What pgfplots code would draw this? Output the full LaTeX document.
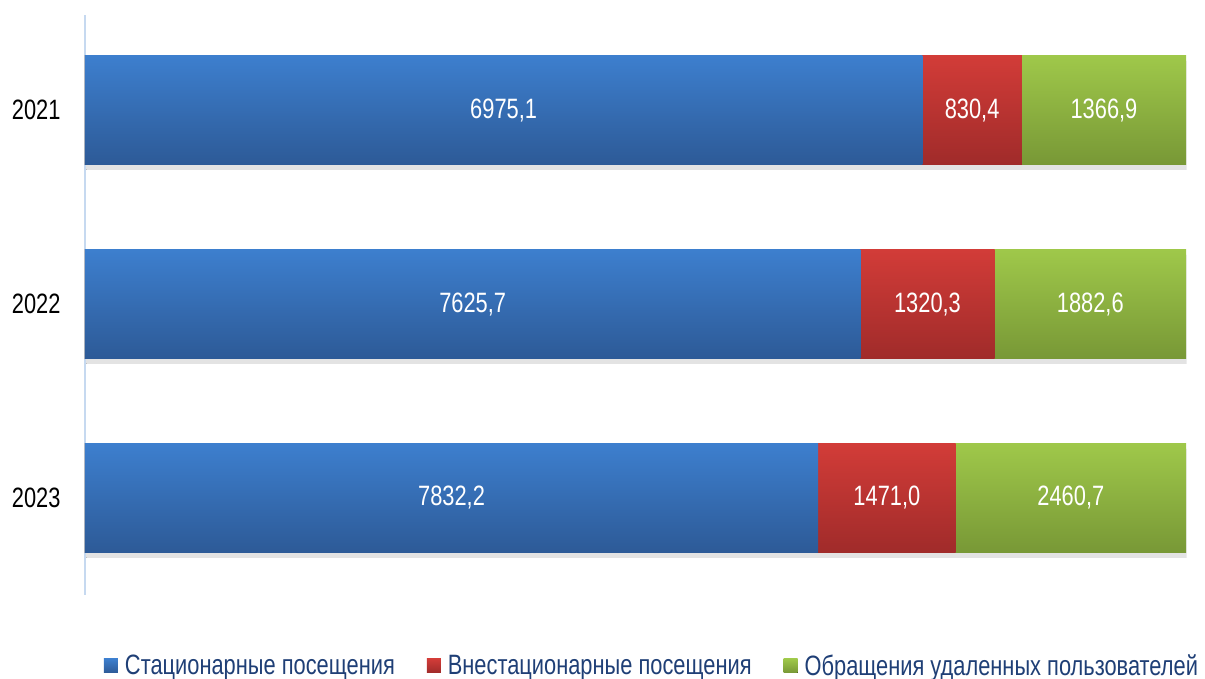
\documentclass[border=0pt]{standalone}
\usepackage{pgfplots}
\pgfplotsset{compat=1.18}
\usepackage{pgfplotstable}
\usetikzlibrary{shadows}
\usepackage{fontspec}
\setmainfont{Liberation Sans}[FakeStretch=0.78]
\definecolor{blueT}{HTML}{3D7FCE}
\definecolor{blueB}{HTML}{2D5A97}
\definecolor{redT}{HTML}{D23C38}
\definecolor{redB}{HTML}{A02B2A}
\definecolor{greenT}{HTML}{9FC84A}
\definecolor{greenB}{HTML}{789836}
\definecolor{axisc}{HTML}{C6D9F0}
\definecolor{legtext}{HTML}{1F3F76}

\pgfplotstableread{
y a b c
0 6975.1 830.4 1366.9
1 7625.7 1320.3 1882.6
2 7832.2 1471.0 2460.7
}\data

\pgfplotsset{
  common/.style={
    scale only axis, width=1101pt, height=580pt,
    xmin=0, xmax=100, ymin=-0.49, ymax=2.5, y dir=reverse,
  },
}

\begin{document}
\begin{tikzpicture}
\useasboundingbox (-85pt,-84pt) rectangle (1120pt,595pt);
\begin{axis}[
  common,
  xbar, bar width=109pt, bar shift=0pt,
  ytick={0,1,2}, yticklabels={2021,2022,2023},
  axis x line=none, axis y line*=left,
  y axis line style={draw=axisc, line width=2pt, -},
  major tick length=0pt,
  yticklabel style={font=\fontsize{28}{32}\selectfont, text=black, xshift=-21pt},
  legend style={at={(0.515,-0.122)}, anchor=center, draw=none, fill=none,
    legend columns=3, font=\fontsize{28}{32}\selectfont, text=legtext,
    /tikz/every even column/.append style={column sep=30pt}},
  legend cell align=left,
  legend image code/.code={\fill[#1] (0pt,-7pt) rectangle (14pt,7pt); \path (19pt,0pt);},
]
\pgfplotsinvokeforeach{0,1,2}{
  \addplot[forget plot, draw=none, top color=greenT, bottom color=greenB,
    drop shadow={shadow xshift=1.5pt, shadow yshift=-5pt, opacity=1, top color=black!11, bottom color=black!11},
    restrict y to domain=#1:#1]
    table[x expr={100*(\thisrow{a}+\thisrow{b}+\thisrow{c})/(\thisrow{a}+\thisrow{b}+\thisrow{c})}, y=y] {\data};
  \addplot[forget plot, draw=none, top color=redT, bottom color=redB,
    restrict y to domain=#1:#1]
    table[x expr={100*(\thisrow{a}+\thisrow{b})/(\thisrow{a}+\thisrow{b}+\thisrow{c})}, y=y] {\data};
  \addplot[forget plot, draw=none, top color=blueT, bottom color=blueB,
    restrict y to domain=#1:#1]
    table[x expr={100*\thisrow{a}/(\thisrow{a}+\thisrow{b}+\thisrow{c})}, y=y] {\data};
}
\addlegendimage{draw=none, top color=blueT, bottom color=blueB}
\addlegendentry{Стационарные посещения}
\addlegendimage{draw=none, top color=redT, bottom color=redB}
\addlegendentry{Внестационарные посещения}
\addlegendimage{draw=none, top color=greenT, bottom color=greenB}
\addlegendentry{Обращения удаленных пользователей}
\end{axis}
\begin{axis}[
  common, hide axis,
  nodes near coords={\pgfmathprintnumber{\pgfplotspointmeta}},
  every node near coord/.append style={anchor=center, text=white, font=\fontsize{28}{32}\selectfont},
  point meta=explicit,
  /pgf/number format/.cd, fixed, fixed zerofill, precision=1, use comma, 1000 sep={}, assume math mode=true,
]
\addplot[draw=none, mark=none]
  table[x expr={100*(0.5*\thisrow{a})/(\thisrow{a}+\thisrow{b}+\thisrow{c})}, y=y, meta=a] {\data};
\addplot[draw=none, mark=none]
  table[x expr={100*(\thisrow{a}+0.5*\thisrow{b})/(\thisrow{a}+\thisrow{b}+\thisrow{c})}, y=y, meta=b] {\data};
\addplot[draw=none, mark=none]
  table[x expr={100*(\thisrow{a}+\thisrow{b}+0.5*\thisrow{c})/(\thisrow{a}+\thisrow{b}+\thisrow{c})}, y=y, meta=c] {\data};
\end{axis}
\end{tikzpicture}
\end{document}
